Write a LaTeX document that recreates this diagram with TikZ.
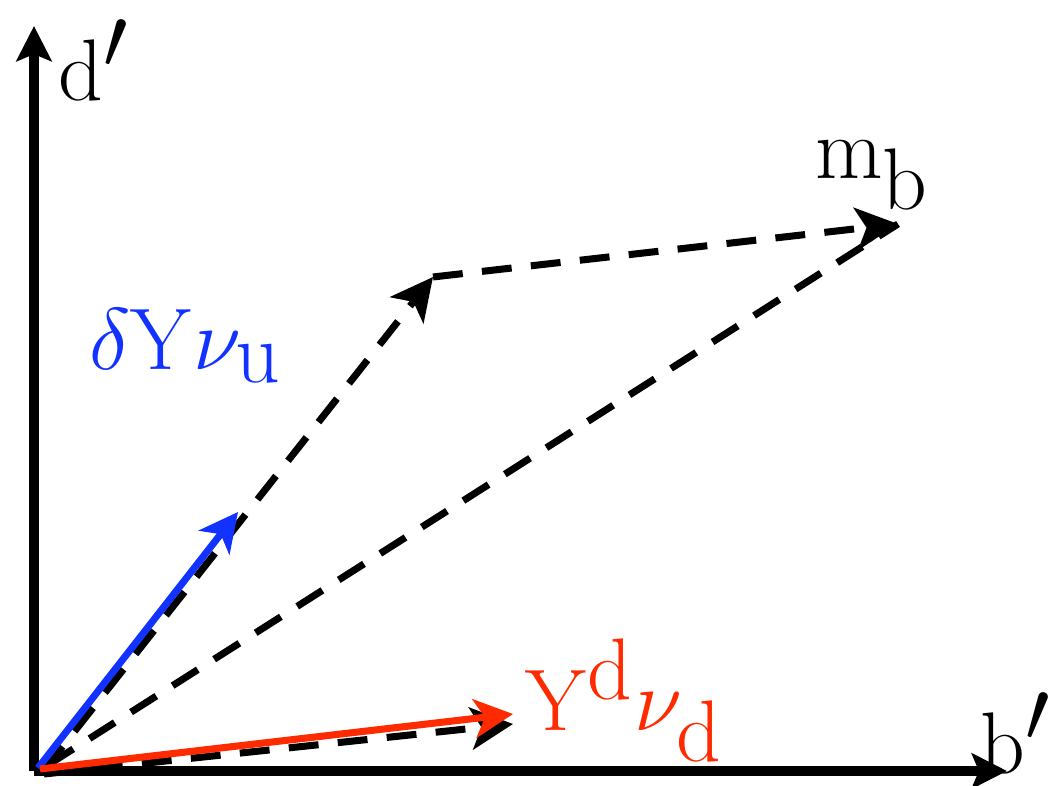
\documentclass[tikz,border=0pt]{standalone}
\usepackage{tikz}
\usetikzlibrary{arrows.meta}
\definecolor{vecblue}{HTML}{1232FF}
\definecolor{vecred}{HTML}{FF2A00}

\begin{document}
\begin{tikzpicture}[
  x=0.01cm, y=-0.01cm,
  font=\fontsize{33}{40}\selectfont,
  lab/.style={inner sep=0pt},
  axis/.style={-{Stealth[length=10pt, width=10pt, inset=2pt]}, line width=2.6pt},
  vec/.style={-{Stealth[length=11pt, width=11pt, inset=3pt]}, line width=2pt},
  dvec/.style={-{Stealth[length=12pt, width=12pt, inset=3pt]}, line width=2pt,
    dash pattern=on 8.5pt off 5.5pt},
  dseg/.style={line width=2pt, dash pattern=on 8.5pt off 5.5pt}
]
\useasboundingbox (0,0) rectangle (1063,786);

% axes
\coordinate (o) at (34,771);
\coordinate (dtop) at (34,26);
\coordinate (bend) at (1007,771);
\draw[axis] (o) -- (dtop);
\draw[axis] (o) -- (bend);

% end points
\coordinate (ou) at (44,770);
\coordinate (od) at (44,774);
\coordinate (om) at (48,765);
\coordinate (kink) at (433,277);
\coordinate (mtip) at (898,224);
\coordinate (dtip) at (513,724);

% dashed sums
\draw[dvec] (od) -- (dtip);
\draw[dvec] (ou) -- (kink);
\draw[dvec] (kink) -- (mtip);
\draw[dseg] (om) -- (mtip);

% coloured vectors
\draw[vec, vecblue] (38,768) coordinate (bo) -- (238,512) coordinate (btip);
\draw[vec, vecred] (40,769) coordinate (ro) -- (513,714) coordinate (rtip);

% labels
\node[lab] (dlab) at (94,60) {$\mathrm{d}'$};
\node[lab] (blab) at (1016,733) {$\mathrm{b}'$};
\node[lab] (mlab) at (872,175) {$\mathrm{m_b}$};
\node[lab, text=vecblue] (ulab) at (186,346) {$\delta\mathrm{Y}\nu_{\mathrm{u}}$};
\node[lab, text=vecred] (rlab) at (624,700) {$\mathrm{Y}^{\mathrm{d}}\nu_{\mathrm{d}}$};
\end{tikzpicture}
\end{document}
